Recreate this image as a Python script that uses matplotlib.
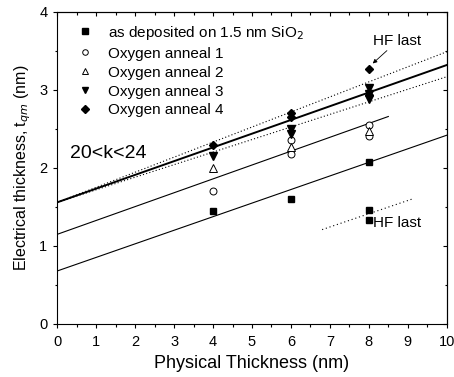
import matplotlib
matplotlib.use("Agg")
import matplotlib.pyplot as plt
from matplotlib.ticker import MultipleLocator, NullFormatter

plt.rcParams['font.family'] = ['Liberation Sans', 'DejaVu Sans']

# measured points
x_dep = [4, 6, 8]
y_dep = [1.45, 1.60, 2.08]
x_dep_hf = [8, 8]
y_dep_hf = [1.46, 1.33]

x_a1 = [4, 6, 6, 8, 8]
y_a1 = [1.71, 2.18, 2.36, 2.55, 2.41]
x_a2 = [4, 6, 8]
y_a2 = [2.00, 2.27, 2.47]
x_a3 = [4, 6, 6, 8, 8, 8]
y_a3 = [2.15, 2.50, 2.44, 3.02, 2.89, 2.95]
x_a4 = [4, 6, 6, 8]
y_a4 = [2.29, 2.71, 2.65, 2.94]
x_a4_hf = [8]
y_a4_hf = [3.27]

# fit lines (x start/end, y start/end)
fit_dep = ([0, 10], [0.68, 2.42])
fit_a1 = ([0, 8.5], [1.15, 2.66])
fit_main = ([0, 10], [1.56, 3.32])
fit_up = ([0, 10], [1.56, 3.49])
fit_lo = ([0, 10], [1.56, 3.17])
fit_hf = ([6.8, 9.1], [1.21, 1.60])

fig = plt.figure(figsize=(4.54, 3.77), dpi=100)
ax = fig.add_axes([0.1262, 0.1406, 0.8578, 0.8276])

# lines
ax.plot(*fit_dep, color='black', lw=0.8)
ax.plot(*fit_a1, color='black', lw=0.8)
ax.plot(*fit_main, color='black', lw=1.4)
ax.plot(*fit_up, color='black', lw=0.8, ls=(0, (1, 2)))
ax.plot(*fit_lo, color='black', lw=0.8, ls=(0, (1, 2)))
ax.plot(*fit_hf, color='black', lw=0.8, ls=(0, (1, 2.5)))

ms = 5
ax.plot(x_dep, y_dep, 's', color='black', ms=ms, ls='none',
        label='as deposited on 1.5 nm SiO$_2$')
ax.plot(x_a1, y_a1, 'o', mfc='white', mec='black', mew=0.7, ms=ms, ls='none',
        label='Oxygen anneal 1')
ax.plot(x_a2, y_a2, '^', mfc='white', mec='black', mew=0.7, ms=ms + 0.5, ls='none',
        label='Oxygen anneal 2')
ax.plot(x_a3, y_a3, 'v', color='black', ms=ms + 1, ls='none',
        label='Oxygen anneal 3')
ax.plot(x_a4, y_a4, 'D', color='black', ms=ms - 0.5, ls='none',
        label='Oxygen anneal 4')
ax.plot(x_dep_hf, y_dep_hf, 's', color='black', ms=ms, ls='none')
ax.plot(x_a4_hf, y_a4_hf, 'D', color='black', ms=ms - 0.5, ls='none')

ax.legend(loc='upper left', bbox_to_anchor=(0.052, 0.962), frameon=False,
          fontsize=11, handlelength=1.0, handletextpad=1.0,
          labelspacing=0.32, borderaxespad=0, borderpad=0, markerscale=0.8)

# annotations
ax.annotate('HF last', xy=(8.1, 3.34), xytext=(8.11, 3.63), fontsize=11,
            ha='left', va='center',
            arrowprops=dict(arrowstyle='-|>', color='black', lw=0.6,
                            shrinkA=0, shrinkB=0, mutation_scale=6,
                            relpos=(0.35, 0.0)))
ax.text(8.1, 1.29, 'HF last', fontsize=11, ha='left', va='center')
ax.text(0.33, 2.18, '20<k<24', fontsize=14, ha='left', va='center')

ax.set_xlim(0, 10)
ax.set_ylim(0, 4)
for a in (ax.xaxis, ax.yaxis):
    a.set_major_locator(MultipleLocator(1))
    a.set_minor_locator(MultipleLocator(0.5))
ax.tick_params(which='both', direction='out', labelsize=10.5, pad=4)
ax.tick_params(axis='x', which='both', pad=5)
ax.tick_params(which='major', length=3.2, width=0.8)
ax.tick_params(which='minor', length=1.8, width=0.8)

# mirrored ticks pointing inward on top and right
top = ax.secondary_xaxis('top')
right = ax.secondary_yaxis('right')
for sa, a in ((top, top.xaxis), (right, right.yaxis)):
    a.set_major_locator(MultipleLocator(1))
    a.set_minor_locator(MultipleLocator(0.5))
    a.set_major_formatter(NullFormatter())
    sa.tick_params(which='both', direction='in', width=0.8)
    sa.tick_params(which='major', length=3.2)
    sa.tick_params(which='minor', length=1.8)
    for s in sa.spines.values():
        s.set_linewidth(0.8)
for s in ax.spines.values():
    s.set_linewidth(0.8)

ax.set_xlabel('Physical Thickness (nm)', fontsize=13, labelpad=4)
ax.set_ylabel('Electrical thickness, t$_{qm}$ (nm)', fontsize=11.5, labelpad=4)

fig.savefig('out.png', dpi=100)
